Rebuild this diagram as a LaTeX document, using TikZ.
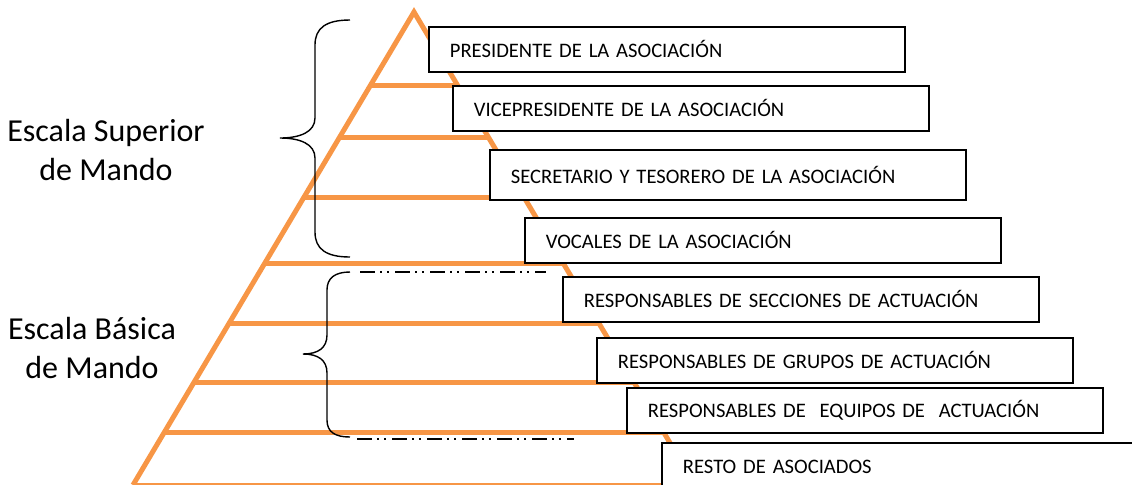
\documentclass[tikz,border=0pt]{standalone}
\usepackage{fontspec}
\setmainfont{Carlito}
\usetikzlibrary{calc}

\definecolor{piramide}{RGB}{247,150,70}

\begin{document}
\begin{tikzpicture}[x = 0.5pt, y = -0.5pt]
	\tikzstyle{pyrStyle} = [draw = piramide, line width = 2.5pt]
	\tikzstyle{boxStyle} = [draw, fill = white, line width = 0.9pt, anchor = north west, inner xsep = 10.5pt, inner ysep = 0pt, text width = 217pt, minimum height = 22.5pt, align = left, font = \fontsize{10.3}{12}\selectfont]
	\tikzstyle{braceStyle} = [draw, line width = 0.7pt]
	\tikzstyle{dashStyle} = [draw, line width = 0.7pt, dash pattern = on 7.5pt off 2.5pt on 1pt off 2.5pt on 1pt off 3pt]
	\tikzstyle{scaleStyle} = [align = center, font = \fontsize{16}{19.5}\selectfont]
	\useasboundingbox (0,0) rectangle (1132,484);
	\coordinate (apex) at (414,12);
	\coordinate (bl) at (133,485);
	\coordinate (br) at (695,485);
	\draw[pyrStyle] (bl) -- (apex) -- (br);
	\foreach \y in {85,137,197,263,323,382,432,485}
		\draw[pyrStyle] ({414-0.595*(\y-12)},\y) -- ({414+0.595*(\y-12)},\y);
	\node[boxStyle] (presidente) at (428,26) {PRESIDENTE DE LA ASOCIACIÓN};
	\node[boxStyle] (vicepresidente) at (452,85) {VICEPRESIDENTE DE LA ASOCIACIÓN};
	\node[boxStyle, minimum height = 25pt] (secretario) at (489,149) {SECRETARIO Y TESORERO DE LA ASOCIACIÓN};
	\node[boxStyle] (vocales) at (524,217) {VOCALES DE LA ASOCIACIÓN};
	\node[boxStyle] (secciones) at (562,276) {RESPONSABLES DE SECCIONES DE ACTUACIÓN};
	\node[boxStyle] (grupos) at (596,337) {RESPONSABLES DE GRUPOS DE ACTUACIÓN};
	\node[boxStyle] (equipos) at (626,387) {RESPONSABLES DE\ \ EQUIPOS DE\ \ ACTUACIÓN};
	\node[boxStyle, minimum height = 24pt] (resto) at (661,442) {RESTO DE ASOCIADOS};
	\node[scaleStyle] (superior) at (106,150) {Escala Superior\\de Mando};
	\node[scaleStyle] (basica) at (92,348) {Escala Básica\\de Mando};
	\draw[braceStyle] (350,20) .. controls (326,20) and (315,28) .. (315,45) -- (315,118)
		.. controls (315,132) and (300,138) .. (280,138)
		.. controls (300,138) and (315,144) .. (315,158) -- (315,232)
		.. controls (315,249) and (326,257) .. (350,257);
	\draw[braceStyle] (350,272) .. controls (335,272) and (327,278) .. (327,290) -- (327,335)
		.. controls (327,348) and (318,354) .. (303,354)
		.. controls (318,354) and (327,360) .. (327,373) -- (327,420)
		.. controls (327,432) and (335,437) .. (350,437);
	\draw[dashStyle] (360,272) -- (546,272);
	\draw[dashStyle] (357,439) -- (574,439);
\end{tikzpicture}
\end{document}
